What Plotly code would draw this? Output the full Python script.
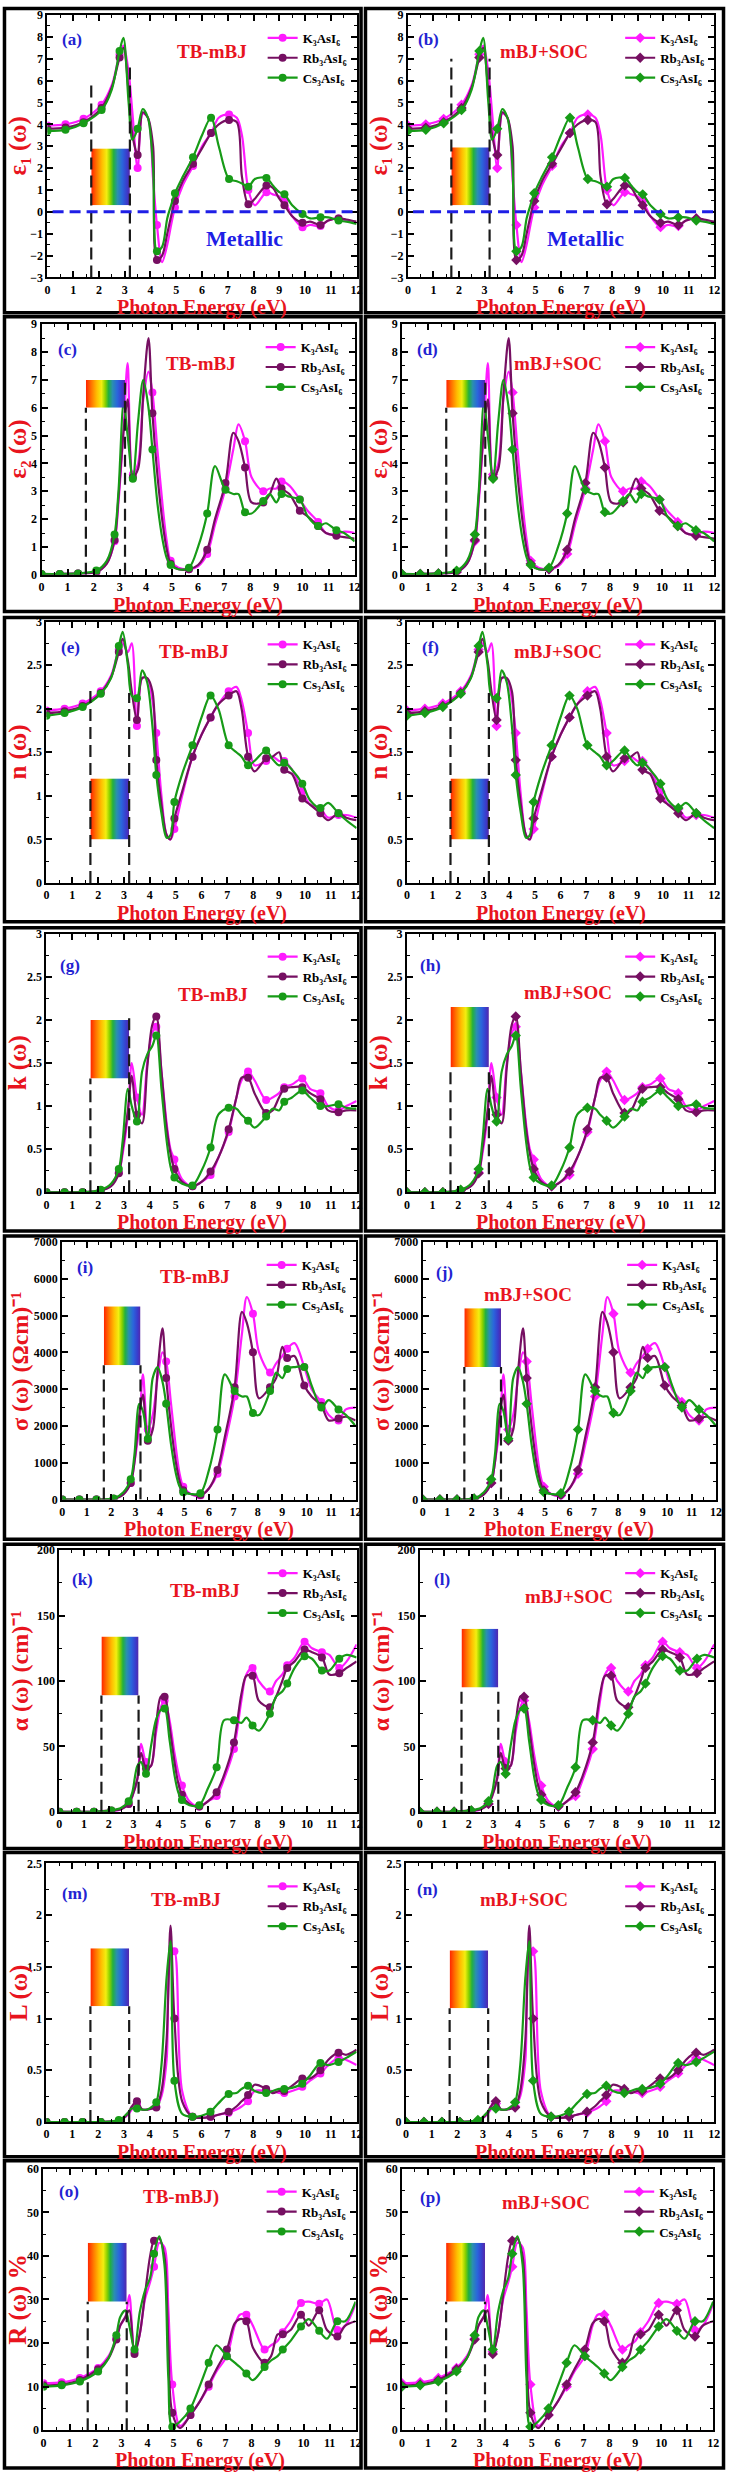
import base64
import plotly.graph_objects as go

W, H = 731, 2479
SERIF = "Liberation Serif"

# ---------------- data ----------------
ENERGY = [0, 0.7, 1.4, 2.1, 2.5, 2.8, 2.95, 3.15, 3.3, 3.5,
          3.7, 3.9, 4.1, 4.25, 4.45, 4.65, 4.8, 4.95, 5.25, 5.65,
          6.0, 6.35, 6.65, 7.05, 7.35, 7.55, 7.8, 8.05, 8.5, 8.75,
          9.0, 9.2, 9.5, 9.9, 10.2, 10.6, 10.9, 11.3, 11.6, 12.0]
MARKER_ENERGY = [0, 0.7, 1.4, 2.1, 2.8, 3.5, 4.25, 4.95, 5.65, 6.35, 7.05,
                 7.8, 8.5, 9.2, 9.9, 10.6, 11.3]

COMPOUNDS = ["K₃AsI₆", "Rb₃AsI₆", "Cs₃AsI₆"]
METHODS = ["TB-mBJ", "mBJ+SOC"]
VISIBLE_RANGE = [1.7, 3.2]

EPS1_K = [3.95, 4.0, 4.25, 4.9, 5.8, 7.2, 7.6, 6.4, 4.5, 2.0,
          4.5, 4.3, 1.5, -0.6, -2.3, -1.5, -0.6, 0.2, 1.2, 2.1,
          3.0, 3.6, 4.3, 4.45, 4.3, 3.5, 1.0, 0.3, 0.9, 0.8,
          0.7, 0.5, -0.2, -0.7, -0.6, -0.65, -0.4, -0.3, -0.4, -0.5]
EPS1_RB = [3.8, 3.85, 4.1, 4.75, 5.7, 7.05, 7.5, 5.5, 3.5, 2.6,
           4.55, 4.3, 3.0, -2.2, -2.0, -1.0, -0.2, 0.5, 1.4, 2.2,
           2.9, 3.6, 4.0, 4.2, 4.1, 1.6, 0.35, 0.6, 1.2, 1.1,
           0.6, 0.3, -0.2, -0.5, -0.45, -0.6, -0.4, -0.3, -0.35, -0.45]
EPS1_CS = [3.7, 3.75, 4.05, 4.65, 5.6, 7.35, 7.95, 5.0, 3.3, 3.8,
           4.7, 4.3, 2.0, -1.8, -1.6, -0.3, 0.3, 0.85, 1.6, 2.5,
           3.5, 4.3, 3.0, 1.5, 1.4, 1.3, 1.15, 1.5, 1.55, 1.2,
           0.9, 0.8, 0.3, -0.1, -0.3, -0.25, -0.25, -0.4, -0.45, -0.55]

EPS2_K = [0.02, 0.03, 0.05, 0.1, 0.4, 1.2, 2.6, 5.3, 7.6, 3.6,
          4.0, 6.3, 7.3, 6.55, 4.4, 2.4, 1.2, 0.5, 0.25, 0.2,
          0.3, 0.75, 1.8, 3.1, 4.5, 5.4, 4.8, 3.5, 3.0, 3.1,
          3.1, 3.35, 3.2, 2.7, 2.3, 1.9, 1.5, 1.45, 1.55, 1.5]
EPS2_RB = [0.02, 0.03, 0.05, 0.1, 0.4, 1.25, 2.8, 5.2, 6.3, 3.5,
           3.8, 6.5, 8.5, 5.8, 3.5, 1.8, 0.9, 0.4, 0.2, 0.2,
           0.35, 0.9, 2.0, 3.3, 5.1, 4.8, 3.85, 2.6, 2.6, 2.9,
           3.45, 3.1, 2.9, 2.3, 2.1, 1.75, 1.5, 1.4, 1.35, 1.3]
EPS2_CS = [0.03, 0.03, 0.05, 0.15, 0.5, 1.45, 3.0, 6.2, 5.0, 3.45,
           5.5, 7.0, 6.0, 4.5, 2.5, 1.2, 0.6, 0.35, 0.2, 0.25,
           1.0, 2.2, 3.9, 3.05, 2.9, 2.9, 2.25, 2.2, 2.65, 2.9,
           2.6, 2.9, 2.8, 2.7, 2.1, 1.75, 1.85, 1.6, 1.5, 1.2]

N_K = [1.98, 2.0, 2.06, 2.2, 2.38, 2.68, 2.75, 2.65, 2.75, 1.8,
       2.35, 2.35, 2.1, 1.72, 1.0, 0.55, 0.5, 0.62, 1.0, 1.45,
       1.7, 1.9, 2.05, 2.2, 2.25, 2.1, 1.72, 1.35, 1.4, 1.45,
       1.4, 1.4, 1.3, 1.05, 0.9, 0.85, 0.75, 0.78, 0.78, 0.75]
N_RB = [1.95, 1.97, 2.03, 2.18, 2.36, 2.65, 2.8, 2.55, 2.2, 1.87,
        2.35, 2.35, 2.2, 1.41, 0.9, 0.55, 0.5, 0.74, 1.05, 1.45,
        1.7, 1.9, 2.05, 2.15, 2.2, 2.0, 1.45, 1.28, 1.43, 1.45,
        1.5, 1.3, 1.25, 0.97, 0.9, 0.8, 0.72, 0.8, 0.75, 0.72]
N_CS = [1.92, 1.95, 2.02, 2.17, 2.35, 2.72, 2.88, 2.5, 2.15, 2.12,
        2.44, 2.3, 1.8, 1.24, 0.8, 0.52, 0.55, 0.93, 1.25, 1.58,
        1.9, 2.15, 2.0, 1.58, 1.5, 1.45, 1.35, 1.4, 1.52, 1.42,
        1.35, 1.38, 1.3, 1.14, 0.95, 0.86, 0.92, 0.8, 0.72, 0.63]

KAPPA_K = [0, 0, 0, 0.02, 0.08, 0.23, 0.45, 0.9, 1.5, 1.1,
           0.9, 1.5, 1.85, 1.92, 1.4, 0.8, 0.5, 0.38, 0.15, 0.07,
           0.12, 0.2, 0.4, 0.7, 1.1, 1.3, 1.4, 1.3, 1.07, 1.1,
           1.15, 1.22, 1.25, 1.32, 1.2, 1.15, 1.0, 0.95, 1.0, 1.06]
KAPPA_RB = [0, 0, 0, 0.02, 0.07, 0.22, 0.5, 0.95, 1.35, 0.9,
            0.8, 1.45, 1.95, 2.04, 1.4, 0.75, 0.45, 0.27, 0.12, 0.07,
            0.12, 0.24, 0.4, 0.73, 1.1, 1.33, 1.33, 1.15, 0.92, 0.95,
            1.1, 1.2, 1.22, 1.22, 1.15, 1.08, 0.95, 0.93, 0.95, 0.95]
KAPPA_CS = [0, 0, 0, 0.03, 0.1, 0.27, 0.6, 1.2, 1.0, 0.82,
            1.4, 1.6, 1.7, 1.82, 1.2, 0.6, 0.3, 0.17, 0.1, 0.08,
            0.25, 0.52, 0.9, 0.98, 0.97, 0.9, 0.83, 0.75, 0.88, 0.97,
            0.95, 1.05, 1.1, 1.18, 1.1, 1.0, 1.0, 1.02, 0.98, 0.97]

SIGMA_K = [0, 0, 0, 20, 150, 450, 1000, 2000, 3400, 1900,
           2300, 3300, 4000, 3750, 2600, 1400, 700, 350, 150, 100,
           300, 700, 1500, 2800, 4500, 5500, 5050, 4000, 3450, 3700,
           3900, 4100, 4250, 3600, 3000, 2650, 2300, 2150, 2450, 2500]
SIGMA_RB = [0, 0, 0, 20, 140, 450, 1000, 2300, 2850, 1600,
            1900, 3500, 4650, 3300, 2000, 1000, 500, 250, 150, 120,
            300, 800, 1700, 3050, 5100, 4800, 4000, 2750, 3050, 3300,
            4150, 3850, 3900, 3100, 2800, 2550, 2150, 2200, 2250, 2150]
SIGMA_CS = [0, 0, 0, 30, 200, 550, 1200, 2600, 2400, 1650,
            3300, 3600, 3200, 2600, 1500, 700, 350, 200, 150, 170,
            800, 1900, 3400, 2950, 2800, 2800, 2350, 2300, 2950, 3450,
            3300, 3550, 3600, 3600, 3100, 2500, 2700, 2450, 2300, 2000]

ALPHA_K = [0, 0, 0, 0, 2, 6, 12, 25, 52, 38,
           35, 60, 80, 85, 70, 45, 30, 20, 8, 4,
           8, 12, 25, 48, 85, 105, 110, 100, 92, 100,
           105, 112, 118, 130, 125, 122, 120, 110, 115, 128]
ALPHA_RB = [0, 0, 0, 1, 2, 6, 12, 25, 45, 33,
            35, 65, 88, 88, 65, 38, 22, 13, 6, 4,
            8, 15, 28, 53, 90, 104, 104, 85, 80, 88,
            100, 110, 115, 124, 122, 118, 105, 106, 110, 115]
ALPHA_CS = [0, 0, 0, 1, 3, 8, 15, 35, 38, 29,
            50, 70, 78, 79, 55, 28, 15, 9, 5, 5,
            18, 34, 70, 70, 68, 72, 66, 62, 75, 88,
            92, 98, 110, 119, 117, 108, 108, 117, 120, 118]

LOSS_K = [0, 0, 0, 0, 0.005, 0.01, 0.03, 0.07, 0.12, 0.18,
          0.12, 0.12, 0.13, 0.15, 0.25, 0.6, 1.6, 1.65, 0.3, 0.05,
          0.04, 0.05, 0.07, 0.09, 0.12, 0.15, 0.2, 0.3, 0.3, 0.3,
          0.28, 0.28, 0.3, 0.34, 0.4, 0.47, 0.55, 0.62, 0.6, 0.55]
LOSS_RB = [0, 0, 0, 0, 0.005, 0.01, 0.03, 0.08, 0.15, 0.2,
           0.12, 0.12, 0.13, 0.14, 0.3, 0.8, 1.9, 1.0, 0.2, 0.05,
           0.04, 0.05, 0.07, 0.1, 0.15, 0.2, 0.26, 0.36, 0.32, 0.28,
           0.3, 0.3, 0.35, 0.42, 0.42, 0.5, 0.6, 0.67, 0.65, 0.7]
LOSS_CS = [0, 0, 0, 0, 0.005, 0.02, 0.04, 0.09, 0.13, 0.13,
           0.12, 0.12, 0.15, 0.19, 0.55, 1.4, 1.75, 0.4, 0.08, 0.05,
           0.06, 0.1, 0.18, 0.27, 0.28, 0.32, 0.35, 0.3, 0.28, 0.3,
           0.32, 0.32, 0.33, 0.37, 0.45, 0.57, 0.55, 0.58, 0.62, 0.68]

REFL_K = [10.8, 11, 12, 14.3, 17, 21, 24, 26, 31, 18,
          22, 30, 34, 37.5, 43, 42, 28, 10.5, 1, 3.5,
          6.5, 10, 13.5, 17, 24, 26.5, 26.5, 24, 18.5, 19.5,
          20.5, 22.5, 25, 29.2, 29.5, 29, 30, 23, 24, 29]
REFL_RB = [10.3, 10.5, 11.5, 14, 16.5, 20.8, 24, 26, 27.5, 17.5,
           22, 31, 40, 43.5, 44, 40, 20, 4, 0.5, 3.5,
           6.5, 10.5, 14, 18.5, 24.5, 25.5, 25, 19, 15.5, 17,
           22, 22, 23, 26.5, 24, 27.5, 23, 21.5, 24, 25]
REFL_CS = [10, 10.3, 11.2, 13.5, 16.5, 21.8, 26, 27.5, 24, 18.5,
           27, 32, 35, 40.5, 44.5, 38, 12, 0.8, 2, 5,
           10, 15.5, 19.5, 17, 15.5, 14.5, 13, 11.5, 14.5, 16,
           17, 18.5, 20.5, 23.8, 25.5, 22.8, 21, 25, 25, 29.5]

QUANTITIES = [
    (EPS1_K, EPS1_RB, EPS1_CS), (EPS2_K, EPS2_RB, EPS2_CS),
    (N_K, N_RB, N_CS), (KAPPA_K, KAPPA_RB, KAPPA_CS),
    (SIGMA_K, SIGMA_RB, SIGMA_CS), (ALPHA_K, ALPHA_RB, ALPHA_CS),
    (LOSS_K, LOSS_RB, LOSS_CS), (REFL_K, REFL_RB, REFL_CS),
]
for q in QUANTITIES:
    for s in q:
        assert len(s) == len(ENERGY)

MARK_IDX = [i for i, e in enumerate(ENERGY) if e in MARKER_ENERGY]

# ---------------- styling / layout ----------------
COLORS = ["#ff1aff", "#760f62", "#179b17"]
SYMBOLS = ["circle", "diamond"]
RED = "#e8141e"
BLUE = "#2323d2"

ROW_SPEC = [
    dict(title="ε₁ (ω)", yr=(-3, 9), dtick=1, minor=0.5),
    dict(title="ε₂ (ω)", yr=(0, 9), dtick=1, minor=0.5),
    dict(title="n (ω)", yr=(0, 3), dtick=0.5, minor=0.25),
    dict(title="k (ω)", yr=(0, 3), dtick=0.5, minor=0.25),
    dict(title="σ (ω) (Ωcm)⁻¹", yr=(0, 7000), dtick=1000, minor=500),
    dict(title="α (ω) (cm)⁻¹", yr=(0, 200), dtick=50, minor=25),
    dict(title="L (ω)", yr=(0, 2.5), dtick=0.5, minor=0.25),
    dict(title="R (ω) %", yr=(0, 60), dtick=10, minor=5),
]
PLOT_Y = [(8, 272), (319, 571), (618, 881), (932, 1192), (1242, 1501),
          (1552, 1815), (1867, 2127), (2174, 2437)]
PLOT_X = [[(45, 358), (410, 720)], [(39, 356), (404, 720)], [(44, 358), (409, 720)],
          [(44, 358), (409, 720)], [(60, 357), (425, 722)], [(57, 358), (422, 720)],
          [(44, 358), (408, 720)], [(41, 357), (404, 719)]]
FRAME_Y = [(1.5, 307.5), (311.5, 608), (614, 920), (926, 1231), (1236, 1541),
           (1546, 1852), (1856, 2162), (2166, 2475)]
FRAME_X = [(1.5, 362.5), (367, 729.5)]
# positions of panel letter and method text (data coords) [row][col]
LETTER_POS = [[(0.95, 7.9), (0.8, 7.9)], [(0.98, 8.1), (0.98, 8.1)],
              [(0.93, 2.7), (0.93, 2.7)], [(0.93, 2.63), (0.93, 2.63)],
              [(0.95, 6300), (0.9, 6160)], [(0.92, 178), (0.92, 178)],
              [(1.07, 2.21), (0.85, 2.25)], [(0.99, 54.8), (1.1, 53.4)]]
METHOD_POS = [[(6.4, 7.33), (5.35, 7.33)], [(6.1, 7.6), (6.0, 7.6)],
              [(5.7, 2.66), (5.9, 2.66)], [(6.45, 2.29), (6.3, 2.32)],
              [(5.45, 6054), (4.3, 5567)], [(5.9, 169), (6.1, 165)],
              [(5.4, 2.15), (4.6, 2.15)], [(5.3, 53.4), (5.55, 52.2)]]
BOX_Y = [[(0.3, 2.9), (0.3, 2.95)], [(6.0, 7.0), (6.0, 7.0)],
         [(0.5, 1.2), (0.5, 1.2)], [(1.32, 2.0), (1.45, 2.15)],
         [(3650, 5250), (3600, 5200)], [(89, 134), (95, 140)],
         [(1.12, 1.68), (1.1, 1.66)], [(29.5, 43), (29.5, 43)]]
VLINE_TOP = [[(5.9, 6.7), (7.0, 7.0)], [(6.0, 7.0), (6.0, 7.0)],
             [(2.22, 2.18), (2.22, 2.18)], [(1.32, 2.05), (1.45, 1.45)],
             [(3650, 3650), (3600, 3600)], [(89, 89), (95, 95)],
             [(1.12, 1.12), (1.1, 1.1)], [(29.5, 29.5), (29.5, 29.5)]]

stops = [(0, "#ff2200"), (0.14, "#ff7400"), (0.28, "#ffbe00"), (0.4, "#f2ee10"),
         (0.5, "#86d000"), (0.58, "#22b040"), (0.68, "#2a8fb0"), (0.8, "#2a66dc"),
         (0.92, "#3a3ccc"), (1, "#5628a6")]
svg = ('<svg xmlns="http://www.w3.org/2000/svg" width="100" height="100" '
       'viewBox="0 0 100 100" preserveAspectRatio="none"><defs>'
       '<linearGradient id="r" x1="0" y1="0" x2="1" y2="0">'
       + "".join(f'<stop offset="{o}" stop-color="{c}"/>' for o, c in stops)
       + '</linearGradient></defs><rect x="0" y="0" width="100" height="100" '
         'fill="url(#r)"/></svg>')
RAINBOW = "data:image/svg+xml;base64," + base64.b64encode(svg.encode()).decode()


def px(x):
    return x / W


def py(y):
    return 1 - y / H


fig = go.Figure()
layout = dict(width=W, height=H, margin=dict(l=0, r=0, t=0, b=0), autosize=False,
              paper_bgcolor="white", plot_bgcolor="white", showlegend=True)
shapes, annotations, images = [], [], []

for r, spec in enumerate(ROW_SPEC):
    for c in range(2):
        p = 2 * r + c
        n = "" if p == 0 else str(p + 1)
        xa, ya = "x" + n, "y" + n
        leg = "legend" + n
        x0, x1 = PLOT_X[r][c]
        y0, y1 = PLOT_Y[r]
        data = QUANTITIES[r]
        for s in range(3):
            fig.add_trace(go.Scatter(
                x=ENERGY, y=data[s], name=COMPOUNDS[s], mode="lines+markers",
                line=dict(color=COLORS[s], width=2.2, shape="spline", smoothing=0.9),
                marker=dict(symbol=SYMBOLS[c], size=8, color=COLORS[s]),
                selectedpoints=MARK_IDX, unselected=dict(marker=dict(opacity=0)),
                xaxis=xa, yaxis=ya, legend=leg, hoverinfo="skip"))
        axcommon = dict(showline=True, linecolor="black", linewidth=2, mirror="allticks",
                        ticks="inside", ticklen=6, tickwidth=1.5, tickcolor="black",
                        showgrid=False, zeroline=False,
                        tickfont=dict(family=SERIF, size=12, color="black", weight="bold"))
        layout["xaxis" + n] = dict(axcommon, domain=[px(x0), px(x1)], anchor=ya,
                                   range=[0, 12], dtick=1, tick0=0,
                                   minor=dict(ticks="inside", ticklen=3, dtick=0.5,
                                              tickcolor="black", tickwidth=1.2))
        layout["yaxis" + n] = dict(axcommon, domain=[py(y1), py(y0)], anchor=xa,
                                   range=list(spec["yr"]), dtick=spec["dtick"],
                                   tick0=spec["yr"][0],
                                   minor=dict(ticks="inside", ticklen=3, dtick=spec["minor"],
                                              tickcolor="black", tickwidth=1.2))
        layout[leg] = dict(x=px(x1 - 4), xanchor="right", y=py(y0 + 8), yanchor="top",
                           bgcolor="rgba(0,0,0,0)", borderwidth=0, itemwidth=30,
                           tracegroupgap=0, traceorder="normal",
                           font=dict(family=SERIF, size=13, color="black", weight="bold"))
        # panel frame
        fx0, fx1 = FRAME_X[c]
        fy0, fy1 = FRAME_Y[r]
        shapes.append(dict(type="rect", xref="paper", yref="paper", x0=px(fx0), x1=px(fx1),
                           y0=py(fy1), y1=py(fy0), line=dict(color="black", width=3.5)))
        # visible range: rainbow + dashed lines
        b0, b1 = BOX_Y[r][c]
        images.append(dict(source=RAINBOW, xref=xa, yref=ya, x=VISIBLE_RANGE[0], y=b1,
                           sizex=VISIBLE_RANGE[1] - VISIBLE_RANGE[0], sizey=b1 - b0,
                           sizing="stretch", xanchor="left", yanchor="top", layer="above"))
        for k in range(2):
            shapes.append(dict(type="line", xref=xa, yref=ya, x0=VISIBLE_RANGE[k],
                               x1=VISIBLE_RANGE[k], y0=spec["yr"][0], y1=VLINE_TOP[r][c][k],
                               line=dict(color="#1a1a1a", width=2.2, dash="12px,6px")))
        if r == 0:
            shapes.append(dict(type="line", xref=xa, yref=ya, x0=0.2, x1=12, y0=0, y1=0,
                               line=dict(color="#1e1ee6", width=3, dash="11px,6px")))
            annotations.append(dict(text="Metallic", xref=xa, yref=ya,
                                    x=7.65 if c == 0 else 6.97, y=-1.2, showarrow=False,
                                    xanchor="center", yanchor="middle",
                                    font=dict(family=SERIF, size=22, color="#1e1ee6",
                                              weight="bold")))
        lx, ly = LETTER_POS[r][c]
        annotations.append(dict(text=f"({'abcdefghijklmnop'[p]})", xref=xa, yref=ya,
                                x=lx, y=ly, showarrow=False, xanchor="center",
                                yanchor="middle",
                                font=dict(family=SERIF, size=17, color=BLUE, weight="bold")))
        mx, my = METHOD_POS[r][c]
        mtext = METHODS[c] + (")" if (r == 7 and c == 0) else "")
        annotations.append(dict(text=mtext, xref=xa, yref=ya, x=mx, y=my, showarrow=False,
                                xanchor="center", yanchor="middle",
                                font=dict(family=SERIF, size=19, color=RED, weight="bold")))
        # axis titles
        annotations.append(dict(text="Photon Energy (eV)", xref="paper", yref="paper",
                                x=px((x0 + x1) / 2), y=py(y1 + 17), showarrow=False,
                                xanchor="center", yanchor="top",
                                font=dict(family=SERIF, size=20, color=RED, weight="bold")))
        big = r in (4, 5)
        annotations.append(dict(text=spec["title"], xref="paper", yref="paper",
                                x=px(fx0 + (16 if big else 14)),
                                y=py((y0 + y1) / 2 - (10 if big else 0)),
                                showarrow=False, textangle=-90, xanchor="center",
                                yanchor="middle",
                                font=dict(family=SERIF, size=24 if big else 25, color=RED,
                                          weight="bold")))

layout["shapes"] = shapes
layout["annotations"] = annotations
layout["images"] = images
fig.update_layout(**layout)
fig.write_html("out.html")
